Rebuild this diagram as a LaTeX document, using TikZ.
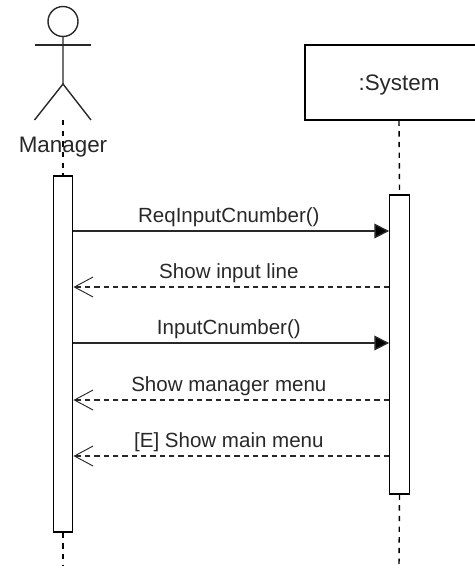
\documentclass[tikz,border=0pt]{standalone}
\usepackage{fontspec}
\setmainfont{Liberation Sans}
\usetikzlibrary{arrows.meta,positioning}
\definecolor{umlgray}{RGB}{40,40,40}
\begin{document}
\begin{tikzpicture}[x=1pt,y=-1pt,scale=0.75,
  actorline/.style={draw=umlgray, line width=1.05pt},
  barnode/.style={draw=black, line width=1.05pt, fill=white, minimum width=14.6pt, inner sep=0pt},
  lifeline/.style={draw=black, line width=1.05pt, dash pattern=on 4pt off 4pt},
  syncmsg/.style={draw=umlgray, line width=1.05pt, -{Triangle[length=11pt,width=11pt,fill=black]}},
  replymsg/.style={draw=umlgray, line width=0.8pt, dash pattern=on 4pt off 3pt, -{Straight Barb[length=14pt,width=15pt,line width=0.7pt]}},
  msglabel/.style={font=\fontsize{15.4pt}{18pt}\selectfont, text=umlgray, inner sep=0pt, above=2.5pt, xshift=-1.8pt},
  rolelabel/.style={font=\fontsize{16.8pt}{20pt}\selectfont, text=umlgray, inner sep=0pt}]
\useasboundingbox (0,0) rectangle (475,568);
\node[circle, draw=umlgray, line width=1.05pt, minimum size=22.5pt, inner sep=0pt] (head) at (63,21.5) {};
\coordinate (hip) at (63,84);
\coordinate (armL) at (34.5,45);
\coordinate (armR) at (91,45);
\coordinate (legL) at (34.5,120);
\coordinate (legR) at (91,120);
\coordinate (mgrtop) at (63,120);
\coordinate (mgrend) at (63,566);
\coordinate (sysend) at (399,566);
% Actor
\draw[actorline] (head) -- (hip);
\draw[actorline] (armL) -- (armR);
\draw[actorline] (legL) -- (hip) -- (legR);
\node[rectangle, draw=black, line width=1.05pt, minimum width=141pt, minimum height=56pt, inner sep=0pt, rolelabel, text height=15pt] (system) at (399,82.5) {:System};
\node[barnode, minimum height=267pt] (mgrbar) at (63,354) {};
\node[barnode, minimum height=224pt] (sysbar) at (399.5,344.5) {};
% Lifelines
\draw[lifeline] (mgrtop) -- (mgrbar.north);
\draw[lifeline] (mgrbar.south) -- (mgrend);
\draw[lifeline] (system.south) -- (sysbar.north);
\draw[lifeline] (sysbar.south) -- (sysend);
\node[rolelabel] (mgrlabel) at (63,147) {Manager};
% Messages
\coordinate (m1) at (0,231);
\coordinate (m2) at (0,287);
\coordinate (m3) at (0,343);
\coordinate (m4) at (0,400);
\coordinate (m5) at (0,456);
\draw[syncmsg] (mgrbar.east |- m1) -- (sysbar.west |- m1) node[msglabel, midway] (l1) {ReqInputCnumber()};
\draw[replymsg] (sysbar.west |- m2) -- (mgrbar.east |- m2) node[msglabel, midway] (l2) {Show input line};
\draw[syncmsg] (mgrbar.east |- m3) -- (sysbar.west |- m3) node[msglabel, midway] (l3) {InputCnumber()};
\draw[replymsg] (sysbar.west |- m4) -- (mgrbar.east |- m4) node[msglabel, midway] (l4) {Show manager menu};
\draw[replymsg] (sysbar.west |- m5) -- (mgrbar.east |- m5) node[msglabel, midway] (l5) {[E] Show main menu};
\end{tikzpicture}
\end{document}
